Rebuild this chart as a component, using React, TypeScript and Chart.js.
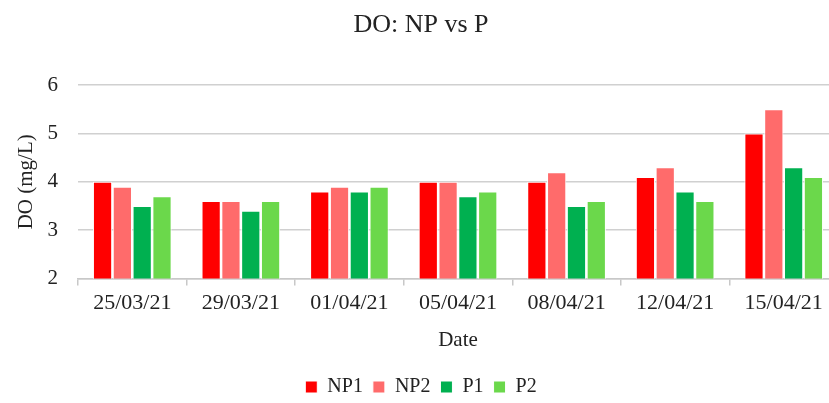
import React, { useEffect, useRef } from "react";
import Chart from "chart.js/auto";

const categories = ["25/03/21", "29/03/21", "01/04/21", "05/04/21", "08/04/21", "12/04/21", "15/04/21"];
const np1 = [4.0, 3.6, 3.8, 4.0, 4.0, 4.1, 5.0];
const np2 = [3.9, 3.6, 3.9, 4.0, 4.2, 4.3, 5.5];
const p1 = [3.5, 3.4, 3.8, 3.7, 3.5, 3.8, 4.3];
const p2 = [3.7, 3.6, 3.9, 3.8, 3.6, 3.6, 4.1];
const seriesNames = ["NP1", "NP2", "P1", "P2"];
const colors = ["#FF0000", "#FF6B6B", "#00B050", "#6BD84B"];

const FONT = "'Liberation Serif', 'Times New Roman', serif";

export default function App() {
  const ref = useRef<HTMLCanvasElement>(null);
  useEffect(() => {
    if (!ref.current) return;
    const data = [np1, np2, p1, p2];
    const chart = new Chart(ref.current, {
      type: "bar",
      data: {
        labels: categories,
        datasets: data.map((d, i) => ({
          label: seriesNames[i],
          data: d,
          backgroundColor: colors[i],
          borderColor: "#ffffff",
          borderWidth: 1,
          borderSkipped: "bottom",
          categoryPercentage: 0.73,
          barPercentage: 0.97,
        })),
      },
      options: {
        responsive: false,
        animation: false,
        layout: { padding: { left: 4, right: 4, top: 0, bottom: -4 } },
        plugins: {
          title: {
            display: true,
            text: "DO: NP vs P",
            color: "#222",
            font: { family: FONT, size: 26, weight: "normal" },
            padding: { top: 10, bottom: 44 },
          },
          legend: {
            position: "bottom",
            labels: {
              color: "#222",
              font: { family: FONT, size: 20 },
              boxWidth: 12,
              boxHeight: 12,
              padding: 10,
              useBorderRadius: false,
            },
          },
          tooltip: { enabled: false },
        },
        scales: {
          x: {
            grid: {
              offset: true,
              drawOnChartArea: false,
              drawTicks: true,
              tickLength: 7,
              color: "#c8c8c8",
              lineWidth: 1.5,
            },
            border: { display: true, color: "#c8c8c8", width: 1.5 },
            ticks: { color: "#222", font: { family: FONT, size: 22 }, padding: 5 },
            title: {
              display: true,
              text: "Date",
              color: "#222",
              font: { family: FONT, size: 21 },
              padding: { top: 6, bottom: 14 },
            },
          },
          y: {
            min: 2,
            max: 6,
            afterFit: (scale: any) => {
              scale.width = 74;
            },
            ticks: { stepSize: 1, color: "#222", font: { family: FONT, size: 21 }, padding: 20 },
            grid: { color: "#d0d0d0", lineWidth: 1.5, drawTicks: false },
            border: { display: false },
            title: {
              display: true,
              text: "DO (mg/L)",
              color: "#222",
              font: { family: FONT, size: 21 },
              padding: { top: 10, bottom: 2 },
            },
          },
        },
      },
    });
    return () => chart.destroy();
  }, []);
  return (
    <div style={{ position: "absolute", left: 0, top: 0, width: 829, height: 403, overflow: "hidden", background: "#fff" }}>
      <canvas ref={ref} width={842} height={403} style={{ width: 842, height: 403, display: "block" }} />
    </div>
  );
}
